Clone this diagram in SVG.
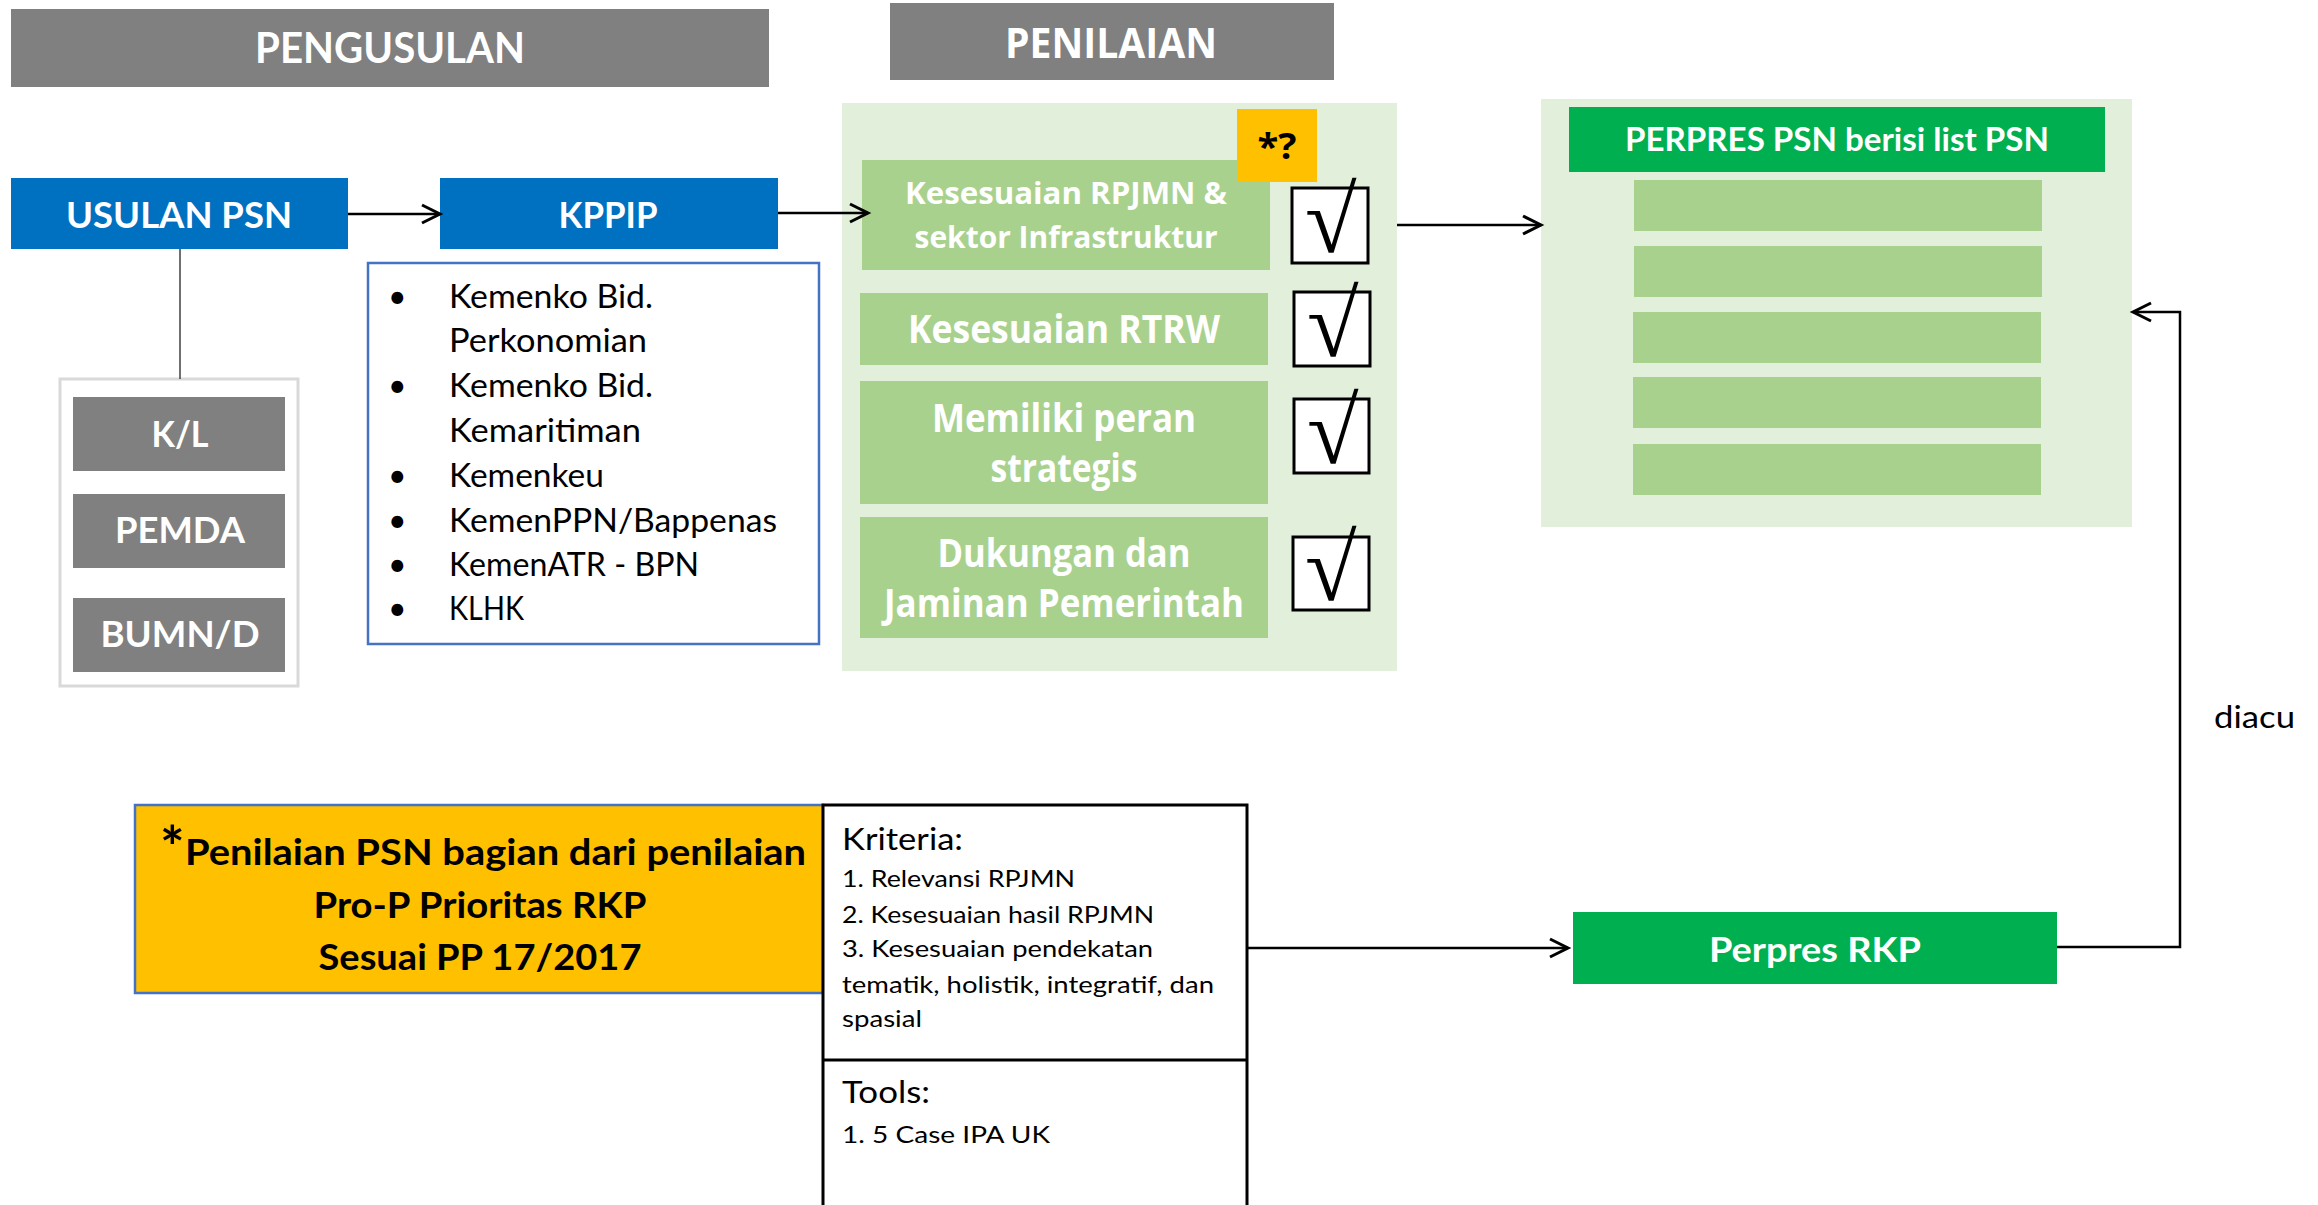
<svg xmlns="http://www.w3.org/2000/svg" width="2318" height="1205" viewBox="0 0 2318 1205">
  <defs>
    <marker id="arrow" markerUnits="userSpaceOnUse" markerWidth="24" markerHeight="24" viewBox="0 0 24 24" refX="20" refY="12" orient="auto">
      <path d="M2,3 L20,12 L2,21" fill="none" stroke="#000" stroke-width="3"/>
    </marker>
  </defs>
  <style>
    .hdr { fill: #808080; }
    .hdrtxt { font-family: Lato, "Liberation Sans", sans-serif; font-weight: 700; fill: #fff; text-anchor: middle; }
    .seg { font-family: "Open Sans", "Liberation Sans", sans-serif; font-weight: 700; fill: #fff; text-anchor: middle; }
    .blue { fill: #0070C0; }
    .gray { fill: #808080; }
    .pale { fill: #E2EFDA; }
    .lgreen { fill: #A9D18E; }
    .dgreen { fill: #00B050; }
    .wb { font-family: Lato, "Liberation Sans", sans-serif; font-weight: 700; fill: #fff; text-anchor: middle; }
    .body { font-family: Lato, "Liberation Sans", sans-serif; fill: #000; }
    .bold { font-family: Lato, "Liberation Sans", sans-serif; font-weight: 700; fill: #000; }
    .chk { fill: #fff; stroke: #000; stroke-width: 3; }
    .tick { font-family: "Liberation Serif", "DejaVu Serif", serif; font-weight: 700; font-size: 94px; fill: #000; }
    .conn { fill: none; stroke: #000; stroke-width: 2.5; }
  </style>

  <!-- section headers -->
  <g id="hdr-pengusulan">
    <rect class="hdr" x="11" y="9" width="758" height="78"/>
    <text class="hdrtxt" x="390" y="63" font-size="42" textLength="270" lengthAdjust="spacingAndGlyphs">PENGUSULAN</text>
  </g>
  <g id="hdr-penilaian">
    <rect class="hdr" x="890" y="3" width="444" height="77"/>
    <text class="seg" x="1111" y="58" font-size="42" textLength="212" lengthAdjust="spacingAndGlyphs">PENILAIAN</text>
  </g>

  <!-- proposal column -->
  <g id="usulan-psn">
    <rect class="blue" x="11" y="178" width="337" height="71"/>
    <text class="wb" x="179" y="228" font-size="36" textLength="226" lengthAdjust="spacingAndGlyphs">USULAN PSN</text>
  </g>
  <g id="kppip">
    <rect class="blue" x="440" y="178" width="338" height="71"/>
    <text class="wb" x="608" y="228" font-size="36" textLength="99" lengthAdjust="spacingAndGlyphs">KPPIP</text>
  </g>

  <g id="pengusul">
    <rect x="60" y="379" width="238" height="307" fill="#fff" stroke="#D9D9D9" stroke-width="3"/>
    <rect class="gray" x="73" y="397" width="212" height="74"/>
    <text class="wb" x="180" y="447" font-size="36" textLength="57" lengthAdjust="spacingAndGlyphs">K/L</text>
    <rect class="gray" x="73" y="494" width="212" height="74"/>
    <text class="wb" x="180" y="543" font-size="36" textLength="130" lengthAdjust="spacingAndGlyphs">PEMDA</text>
    <rect class="gray" x="73" y="598" width="212" height="74"/>
    <text class="wb" x="180" y="647" font-size="36" textLength="159" lengthAdjust="spacingAndGlyphs">BUMN/D</text>
  </g>

  <g id="kppip-anggota">
    <rect x="368" y="263" width="451" height="381" fill="#fff" stroke="#4472C4" stroke-width="2.5"/>
    <g class="body" font-size="32">
      <text x="388" y="308">•</text>
      <text x="449" y="308" textLength="204" lengthAdjust="spacingAndGlyphs">Kemenko Bid.</text>
      <text x="449" y="352" textLength="198" lengthAdjust="spacingAndGlyphs">Perkonomian</text>
      <text x="388" y="397">•</text>
      <text x="449" y="397" textLength="204" lengthAdjust="spacingAndGlyphs">Kemenko Bid.</text>
      <text x="449" y="442" textLength="192" lengthAdjust="spacingAndGlyphs">Kemaritiman</text>
      <text x="388" y="487">•</text>
      <text x="449" y="487" textLength="155" lengthAdjust="spacingAndGlyphs">Kemenkeu</text>
      <text x="388" y="532">•</text>
      <text x="449" y="532" textLength="328" lengthAdjust="spacingAndGlyphs">KemenPPN/Bappenas</text>
      <text x="388" y="576">•</text>
      <text x="449" y="576" textLength="250" lengthAdjust="spacingAndGlyphs">KemenATR - BPN</text>
      <text x="388" y="620">•</text>
      <text x="449" y="620" textLength="75" lengthAdjust="spacingAndGlyphs">KLHK</text>
    </g>
  </g>

  <!-- assessment panel -->
  <g id="penilaian">
    <rect class="pale" x="842" y="103" width="555" height="568"/>
    <g id="kriteria-1">
      <rect class="lgreen" x="862" y="160" width="408" height="110"/>
      <text class="seg" x="1066" y="204" font-size="30" textLength="322" lengthAdjust="spacingAndGlyphs">Kesesuaian RPJMN &amp;</text>
      <text class="seg" x="1066" y="248" font-size="30" textLength="303" lengthAdjust="spacingAndGlyphs">sektor Infrastruktur</text>
    </g>
    <g id="tanya">
      <rect x="1237" y="109" width="80" height="73" fill="#FFC000"/>
      <text x="1277" y="159" font-family="'Open Sans', 'Liberation Sans', sans-serif" font-weight="700" font-size="36" text-anchor="middle" fill="#000" textLength="39" lengthAdjust="spacingAndGlyphs">*?</text>
    </g>
    <g id="kriteria-2">
      <rect class="lgreen" x="860" y="293" width="408" height="72"/>
      <text class="seg" x="1064" y="343" font-size="39" textLength="312" lengthAdjust="spacingAndGlyphs">Kesesuaian RTRW</text>
    </g>
    <g id="kriteria-3">
      <rect class="lgreen" x="860" y="381" width="408" height="123"/>
      <text class="seg" x="1064" y="432" font-size="40" textLength="264" lengthAdjust="spacingAndGlyphs">Memiliki peran</text>
      <text class="seg" x="1064" y="482" font-size="40" textLength="147" lengthAdjust="spacingAndGlyphs">strategis</text>
    </g>
    <g id="kriteria-4">
      <rect class="lgreen" x="860" y="517" width="408" height="121"/>
      <text class="seg" x="1064" y="567" font-size="40" textLength="253" lengthAdjust="spacingAndGlyphs">Dukungan dan</text>
      <text class="seg" x="1064" y="617" font-size="40" textLength="360" lengthAdjust="spacingAndGlyphs">Jaminan Pemerintah</text>
    </g>
    <g id="centang">
      <rect class="chk" x="1292" y="188" width="76" height="75"/>
      <text class="tick" x="1305" y="252">√</text>
      <rect class="chk" x="1294" y="292" width="76" height="74"/>
      <text class="tick" x="1307" y="356">√</text>
      <rect class="chk" x="1294" y="399" width="75" height="74"/>
      <text class="tick" x="1307" y="463">√</text>
      <rect class="chk" x="1293" y="537" width="76" height="73"/>
      <text class="tick" x="1305" y="600">√</text>
    </g>
  </g>

  <!-- PERPRES PSN list -->
  <g id="perpres-psn">
    <rect class="pale" x="1541" y="99" width="591" height="428"/>
    <rect class="dgreen" x="1569" y="107" width="536" height="65"/>
    <text class="wb" x="1837" y="151" font-size="32" textLength="424" lengthAdjust="spacingAndGlyphs">PERPRES PSN berisi list PSN</text>
    <rect class="lgreen" x="1634" y="180" width="408" height="51"/>
    <rect class="lgreen" x="1634" y="246" width="408" height="51"/>
    <rect class="lgreen" x="1633" y="312" width="408" height="51"/>
    <rect class="lgreen" x="1633" y="377" width="408" height="51"/>
    <rect class="lgreen" x="1633" y="444" width="408" height="51"/>
  </g>

  <!-- RKP note and criteria table -->
  <g id="catatan-rkp">
    <rect x="135" y="805" width="688" height="188" fill="#FFC000" stroke="#4472C4" stroke-width="2.5"/>
    <text class="bold" x="160" y="868" font-size="58">*</text>
    <text class="bold" x="185" y="865" font-size="37" textLength="621" lengthAdjust="spacingAndGlyphs">Penilaian PSN bagian dari penilaian</text>
    <text class="bold" x="480" y="918" font-size="37" text-anchor="middle" textLength="333" lengthAdjust="spacingAndGlyphs">Pro-P Prioritas RKP</text>
    <text class="bold" x="480" y="970" font-size="37" text-anchor="middle" textLength="323" lengthAdjust="spacingAndGlyphs">Sesuai PP 17/2017</text>
  </g>
  <g id="kriteria-tools">
    <rect x="823" y="805" width="424" height="430" fill="#fff" stroke="#000" stroke-width="3"/>
    <line x1="823" y1="1060" x2="1247" y2="1060" stroke="#000" stroke-width="3"/>
    <g class="body">
      <text x="842" y="850" font-size="31" textLength="121" lengthAdjust="spacingAndGlyphs">Kriteria:</text>
      <text x="842" y="887" font-size="24" textLength="233" lengthAdjust="spacingAndGlyphs">1. Relevansi RPJMN</text>
      <text x="842" y="923" font-size="24" textLength="312" lengthAdjust="spacingAndGlyphs">2. Kesesuaian hasil RPJMN</text>
      <text x="842" y="957" font-size="24" textLength="311" lengthAdjust="spacingAndGlyphs">3. Kesesuaian pendekatan</text>
      <text x="842" y="993" font-size="24" textLength="372" lengthAdjust="spacingAndGlyphs">tematik, holistik, integratif, dan</text>
      <text x="842" y="1027" font-size="24" textLength="80" lengthAdjust="spacingAndGlyphs">spasial</text>
      <text x="842" y="1103" font-size="31" textLength="88" lengthAdjust="spacingAndGlyphs">Tools:</text>
      <text x="842" y="1143" font-size="24" textLength="208" lengthAdjust="spacingAndGlyphs">1. 5 Case IPA UK</text>
    </g>
  </g>

  <g id="perpres-rkp">
    <rect class="dgreen" x="1573" y="912" width="484" height="72"/>
    <text class="wb" x="1815" y="962" font-size="35" textLength="212" lengthAdjust="spacingAndGlyphs">Perpres RKP</text>
  </g>

  <!-- connectors -->
  <g id="connectors">
    <line x1="180" y1="249" x2="180" y2="379" stroke="#404040" stroke-width="1.5"/>
    <line class="conn" x1="348" y1="214" x2="440" y2="214" marker-end="url(#arrow)"/>
    <line class="conn" x1="778" y1="213" x2="868" y2="213" marker-end="url(#arrow)"/>
    <line class="conn" x1="1397" y1="225" x2="1541" y2="225" marker-end="url(#arrow)"/>
    <line class="conn" x1="1247" y1="948" x2="1568" y2="948" marker-end="url(#arrow)"/>
    <polyline class="conn" points="2057,947 2180,947 2180,312 2133,312" marker-end="url(#arrow)"/>
    <text class="body" x="2214" y="728" font-size="30" textLength="81" lengthAdjust="spacingAndGlyphs">diacu</text>
  </g>
</svg>
